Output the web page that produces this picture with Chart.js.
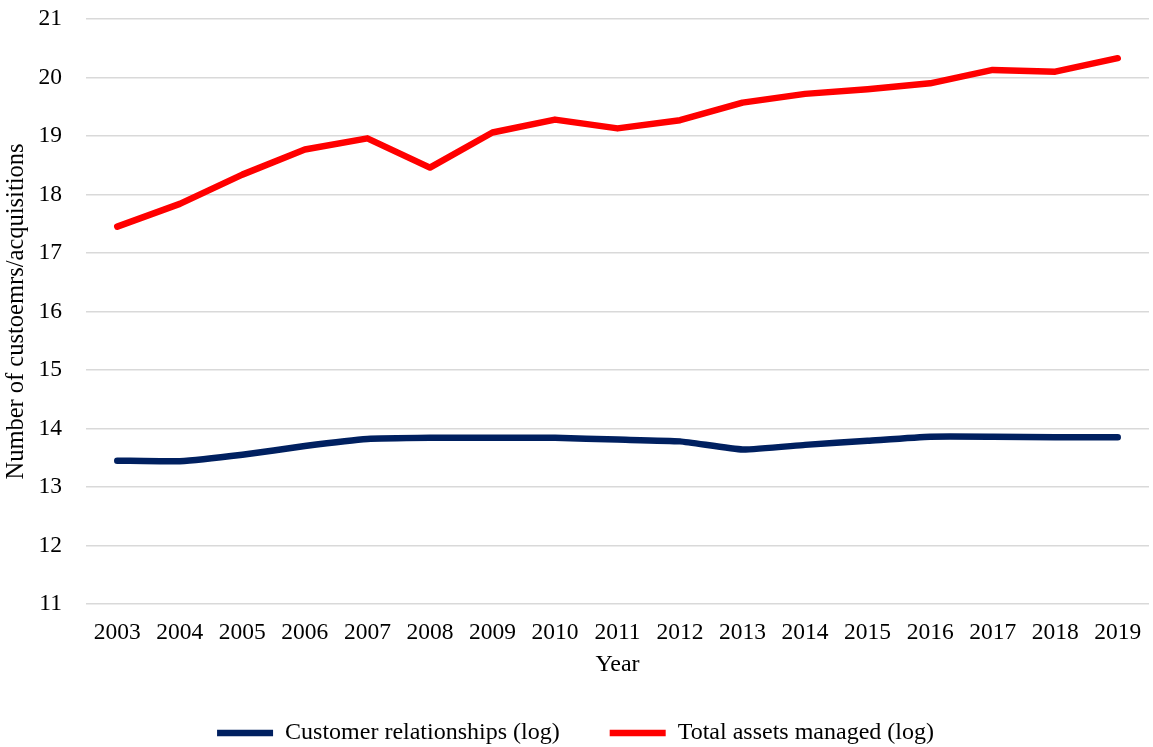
<!DOCTYPE html>
<html>
<head>
<meta charset="utf-8">
<script src="https://cdn.jsdelivr.net/npm/chart.js@4.4.0/dist/chart.umd.min.js"></script>
<style>
  html, body { margin: 0; padding: 0; background: #fff; }
  #wrap { width: 1153px; height: 747px; }
</style>
</head>
<body>
<div id="wrap"><canvas id="grafico" width="1153" height="747"></canvas></div>
<script>
// Datos
const years = ['2003','2004','2005','2006','2007','2008','2009','2010','2011',
               '2012','2013','2014','2015','2016','2017','2018','2019'];
const customerRelationships = [13.45, 13.44, 13.55, 13.70, 13.82, 13.84, 13.84, 13.84, 13.81,
                               13.78, 13.64, 13.72, 13.79, 13.86, 13.86, 13.85, 13.85];
const totalAssets = [17.45, 17.84, 18.34, 18.77, 18.96, 18.46, 19.06, 19.28, 19.13,
                     19.27, 19.57, 19.72, 19.80, 19.90, 20.13, 20.10, 20.33];
const yMin = 11;
const yMax = 21;

const fuente = "'Times New Roman', 'Liberation Serif', serif";
Chart.defaults.font.family = fuente;
Chart.defaults.font.size = 23.5;
Chart.defaults.color = '#000';

const ctx = document.getElementById('grafico').getContext('2d');
const myChart = new Chart(ctx, {
    type: 'line',
    data: {
        labels: years,
        datasets: [{
            label: 'Customer relationships (log)',
            data: customerRelationships,
            borderColor: '#002060',
            backgroundColor: '#002060',
            borderWidth: 6.5,
            borderCapStyle: 'round',
            borderJoinStyle: 'round',
            pointRadius: 0,
            tension: 0.15
        }, {
            label: 'Total assets managed (log)',
            data: totalAssets,
            borderColor: '#ff0000',
            backgroundColor: '#ff0000',
            borderWidth: 6.5,
            borderCapStyle: 'round',
            borderJoinStyle: 'round',
            pointRadius: 0,
            tension: 0
        }]
    },
    options: {
        responsive: false,
        animation: false,
        layout: { padding: { top: 19, right: 4, left: 2, bottom: -8 } },
        scales: {
            x: {
                offset: true,
                grid: { display: false, drawTicks: false },
                border: { display: false },
                ticks: { padding: 14.5, maxRotation: 0, autoSkip: false },
                title: { display: true, text: 'Year', font: { size: 24 },
                         padding: { top: -10.6, bottom: -8.4 } },
                afterFit: (scale) => { scale.paddingLeft = 0; scale.paddingRight = 0; }
            },
            y: {
                min: yMin,
                max: yMax,
                grid: { color: '#d9d9d9', lineWidth: 1.5, drawTicks: false },
                border: { display: false },
                ticks: { stepSize: 1, padding: 24 },
                title: { display: true, text: 'Number of custoemrs/acquisitions', font: { size: 24.5 },
                         padding: { top: 0, bottom: 0 } },
                // ancho fijo del eje y, sin el relleno extra arriba/abajo
                afterFit: (scale) => { scale.width = 84; scale.paddingTop = 0; scale.paddingBottom = 0; }
            }
        },
        plugins: {
            legend: {
                display: true,
                position: 'bottom',
                labels: {
                    usePointStyle: true,
                    pointStyle: 'line',
                    pointStyleWidth: 56,
                    padding: 50,
                    font: { size: 24 }
                }
            },
            tooltip: { enabled: false }
        }
    }
});
</script>
</body>
</html>
